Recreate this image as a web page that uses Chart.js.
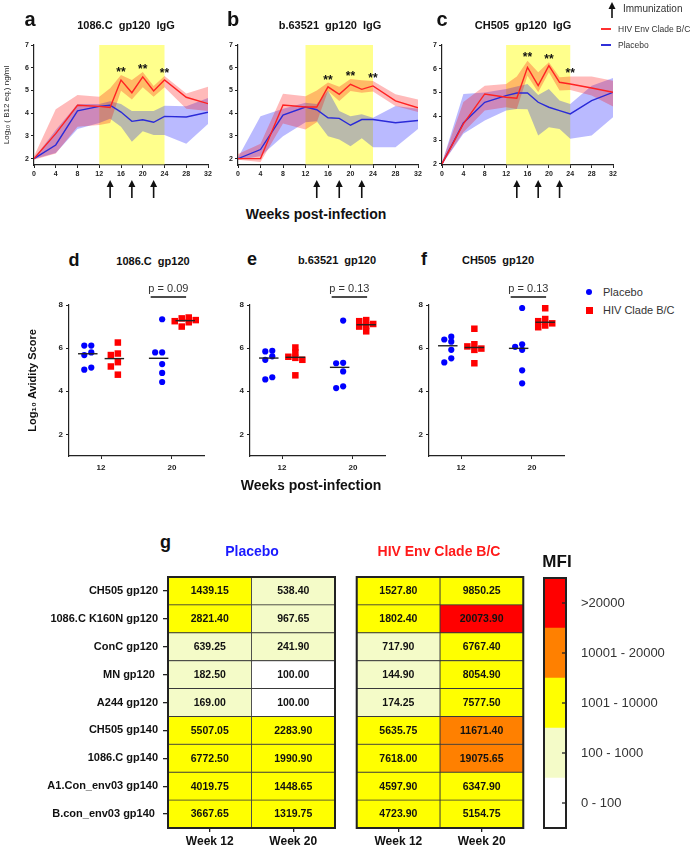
<!DOCTYPE html>
<html>
<head>
<meta charset="utf-8">
<title>Env IgG kinetics, avidity and MFI</title>
<script src="https://cdn.jsdelivr.net/npm/chart.js@4.4.1/dist/chart.umd.min.js"></script>
<style>
  body { margin:0; width:698px; height:848px; position:relative; overflow:hidden; background:#fff;
         font-family:"Liberation Sans", Arial, sans-serif; color:#222; }
  canvas { position:absolute; }
  .t { position:absolute; white-space:nowrap; line-height:1; transform:translate(-50%,-50%); }
  .l { position:absolute; white-space:nowrap; line-height:1; transform:translate(0,-50%); }
  .big { font-weight:bold; font-size:20px; color:#111; }
  .mid { font-weight:bold; font-size:18px; color:#111; }
  .ttl { font-weight:bold; font-size:11px; word-spacing:3px; color:#111; }
  .wk { font-weight:bold; font-size:14px; color:#111; }
</style>
</head>
<body>
<canvas id="chartA" width="215" height="205" style="left:0;top:0"></canvas>
<canvas id="chartB" width="203" height="205" style="left:222px;top:0"></canvas>
<canvas id="chartC" width="193" height="205" style="left:428px;top:0"></canvas>
<canvas id="chartD" width="210" height="220" style="left:0;top:270px"></canvas>
<canvas id="chartE" width="176" height="220" style="left:215px;top:270px"></canvas>
<canvas id="chartF" width="176" height="220" style="left:394px;top:270px"></canvas>
<canvas id="heatPlb" width="340" height="288" style="left:0;top:560px"></canvas>
<canvas id="heatEnv" width="180" height="288" style="left:350px;top:560px"></canvas>
<canvas id="mfiScale" width="168" height="288" style="left:530px;top:560px"></canvas>

<div class="t big" style="left:30px;top:19px">a</div>
<div class="t big" style="left:233px;top:19px">b</div>
<div class="t big" style="left:442px;top:19px">c</div>
<div class="t ttl" style="left:126px;top:24.5px">1086.C gp120 IgG</div>
<div class="t ttl" style="left:330px;top:24.5px">b.63521 gp120 IgG</div>
<div class="t ttl" style="left:523px;top:24.5px">CH505 gp120 IgG</div>

<svg style="position:absolute;left:606px;top:1px" width="12" height="18">
  <line x1="6" y1="4" x2="6" y2="17" stroke="#111" stroke-width="1.6"/>
  <polygon points="6,1 2.5,8 9.5,8" fill="#111"/>
</svg>
<div class="l" style="left:623px;top:9px;font-size:10px;color:#333">Immunization</div>
<div style="position:absolute;left:601px;top:28px;width:10px;height:2px;background:#ff3030"></div>
<div class="l" style="left:618px;top:29px;font-size:8.5px;color:#333">HIV Env Clade B/C</div>
<div style="position:absolute;left:601px;top:44px;width:10px;height:2px;background:#3030d8"></div>
<div class="l" style="left:618px;top:45px;font-size:8.5px;color:#333">Placebo</div>

<div class="t wk" style="left:316px;top:213.5px">Weeks post-infection</div>

<div class="t mid" style="left:74px;top:259.5px">d</div>
<div class="t mid" style="left:252px;top:259px">e</div>
<div class="t mid" style="left:424px;top:259px">f</div>
<div class="t ttl" style="left:153px;top:260.5px">1086.C gp120</div>
<div class="t ttl" style="left:337px;top:260px">b.63521 gp120</div>
<div class="t ttl" style="left:498px;top:260px">CH505 gp120</div>

<div style="position:absolute;left:586px;top:289px;width:6px;height:6px;border-radius:50%;background:#0000ff"></div>
<div class="l" style="left:603px;top:292px;font-size:11px;color:#333">Placebo</div>
<div style="position:absolute;left:585.5px;top:306.5px;width:7px;height:7px;background:#ff0000"></div>
<div class="l" style="left:603px;top:310px;font-size:11px;color:#333">HIV Clade B/C</div>

<div class="t wk" style="left:311px;top:485px">Weeks post-infection</div>

<div class="t mid" style="left:165.5px;top:542px">g</div>
<div class="t wk" style="left:252px;top:551px;color:#1a1aff">Placebo</div>
<div class="t wk" style="left:439px;top:551px;color:#ff1a1a">HIV Env Clade B/C</div>
<div class="t" style="left:557px;top:561px;font-weight:bold;font-size:17px;color:#111">MFI</div>

<script>
// ---- a-c: binding IgG over time (mean line, band = range) ----
const weeks = [0, 4, 8, 12, 14, 16, 18, 20, 22, 24, 28, 32];
const weekTicks = [0, 4, 8, 12, 16, 20, 24, 28, 32];
const igGTicks = [2, 3, 4, 5, 6, 7];
const immunizationWeeks = [14, 18, 22];
const boostWindow = [12, 24];
const starWeeks = [16, 20, 24];

// 1086.C gp120 IgG
const a_envMean = [2.0, 3.1, 4.35, 4.3, 4.25, 5.46, 4.9, 5.6, 4.98, 5.46, 4.7, 4.42];
const a_envHigh = [2.1, 4.17, 4.8, 4.72, 5.1, 5.68, 5.46, 5.81, 5.2, 5.64, 4.87, 5.16];
const a_envLow  = [1.95, 2.23, 3.4, 3.48, 3.57, 4.99, 4.6, 5.14, 4.72, 5.14, 4.2, 4.1];
const a_plbMean = [2.0, 2.6, 4.1, 4.3, 4.35, 4.05, 3.64, 3.71, 3.6, 3.86, 3.83, 4.04];
const a_plbHigh = [2.02, 3.26, 4.4, 4.4, 4.52, 4.4, 4.1, 4.1, 4.1, 4.33, 4.3, 4.67];
const a_plbLow  = [1.98, 2.25, 3.3, 3.57, 3.75, 3.4, 2.74, 3.2, 3.04, 3.04, 2.65, 3.52];

// b.63521 gp120 IgG
const b_envMean = [2.0, 2.0, 4.36, 4.27, 4.27, 5.16, 4.83, 5.27, 5.05, 5.2, 4.54, 4.24];
const b_envHigh = [2.2, 2.65, 4.86, 4.75, 5.0, 5.35, 5.16, 5.5, 5.45, 5.42, 4.83, 4.6];
const b_envLow  = [1.95, 1.85, 3.55, 3.28, 3.6, 4.98, 4.54, 4.98, 4.9, 4.95, 4.32, 4.05];
const b_plbMean = [2.0, 2.4, 3.92, 4.27, 4.15, 3.8, 3.77, 3.47, 3.72, 3.72, 3.58, 3.68];
const b_plbHigh = [2.05, 3.87, 4.2, 4.46, 4.4, 5.0, 4.1, 3.87, 3.95, 3.8, 4.32, 4.2];
const b_plbLow  = [1.95, 2.1, 2.99, 3.6, 3.65, 2.99, 2.84, 2.55, 2.9, 2.5, 2.5, 3.3];

// CH505 gp120 IgG
const c_envMean = [2.0, 3.68, 4.94, 4.8, 4.76, 6.06, 5.29, 6.13, 5.43, 5.36, 5.19, 5.01];
const c_envHigh = [2.05, 4.6, 5.29, 5.36, 5.67, 6.34, 5.85, 6.27, 5.64, 5.67, 5.67, 5.5];
const c_envLow  = [1.97, 3.33, 4.24, 4.38, 4.31, 5.71, 5.01, 5.85, 5.08, 5.11, 4.87, 4.41];
const c_plbMean = [2.0, 3.72, 4.59, 4.87, 4.98, 4.98, 4.59, 4.38, 4.24, 4.1, 4.66, 5.01];
const c_plbHigh = [2.03, 4.94, 5.0, 5.15, 5.25, 5.36, 4.9, 5.15, 4.66, 4.52, 5.29, 5.61];
const c_plbLow  = [1.97, 3.26, 3.82, 4.24, 4.31, 4.3, 3.19, 3.54, 3.47, 3.05, 3.19, 3.96];

// ---- d-f: avidity, 6 animals per group ----
const avidityWeeks = [12, 20];
const avidityTicks = [2, 4, 6, 8];
const d_plb12 = [6.12, 6.12, 5.8, 5.68, 5.1, 5.0];
const d_env12 = [6.26, 5.75, 5.68, 5.35, 5.15, 4.77];
const d_plb20 = [7.34, 5.8, 5.8, 5.26, 4.85, 4.43];
const d_env20 = [7.42, 7.38, 7.3, 7.25, 7.2, 7.0];
const e_plb12 = [5.88, 5.85, 5.62, 5.46, 4.65, 4.55];
const e_env12 = [6.03, 5.8, 5.6, 5.55, 5.46, 4.74];
const e_plb20 = [7.28, 5.32, 5.3, 4.92, 4.23, 4.15];
const e_env20 = [7.3, 7.25, 7.12, 7.05, 7.0, 6.78];
const f_plb12 = [6.53, 6.4, 6.3, 5.92, 5.53, 5.34];
const f_env12 = [6.9, 6.18, 6.08, 5.98, 5.92, 5.3];
const f_plb20 = [7.86, 6.18, 6.06, 5.92, 4.97, 4.37];
const f_env20 = [7.85, 7.35, 7.25, 7.15, 7.05, 6.97];
const pValues = ['0.09', '0.13', '0.13'];

// ---- g: MFI heatmap ----
const antigens = ['CH505 gp120', '1086.C K160N gp120', 'ConC gp120', 'MN gp120 ', 'A244 gp120',
                  'CH505 gp140', '1086.C gp140', 'A1.Con_env03 gp140', 'B.con_env03 gp140 '];
const timepoints = ['Week 12', 'Week 20'];
const plbWk12 = [1439.15, 2821.40, 639.25, 182.50, 169.00, 5507.05, 6772.50, 4019.75, 3667.65];
const plbWk20 = [538.40, 967.65, 241.90, 100.00, 100.00, 2283.90, 1990.90, 1448.65, 1319.75];
const envWk12 = [1527.80, 1802.40, 717.90, 144.90, 174.25, 5635.75, 7618.00, 4597.90, 4723.90];
const envWk20 = [9850.25, 20073.90, 6767.40, 8054.90, 7577.50, 11671.40, 19075.65, 6347.90, 5154.75];
const mfiBins = ['0 - 100', '100 - 1000', '1001 - 10000', '10001 - 20000', '>20000'];
const mfiUpper = [100, 1000, 10000, 20000, Infinity];
const mfiColors = ['#ffffff', '#f4fbc8', '#ffff00', '#ff8000', '#ff0000'];

const FONT = '"Liberation Sans", Arial, sans-serif';
Chart.defaults.font.family = FONT;
Chart.defaults.color = '#222';

const asTicks = arr => s => { s.ticks = arr.map(v => ({value: v})); };

// yellow immunization window behind everything
const boostShade = {
  id: 'boostShade',
  beforeDatasetsDraw(chart) {
    const {ctx, chartArea: a, scales: {x, y}} = chart;
    const l = x.getPixelForValue(boostWindow[0]), r = x.getPixelForValue(boostWindow[1]);
    const t = y.getPixelForValue(7);
    ctx.save();
    ctx.fillStyle = '#ffff8c';
    ctx.fillRect(l, t, r - l, a.bottom - t - 0.6);
    ctx.restore();
  }
};

// ** above the Env band and the immunization arrows under the axis
function igMarks(high) {
  return {
    id: 'igMarks',
    afterDraw(chart) {
      const {ctx, chartArea: a, scales: {x, y}} = chart;
      ctx.save();
      ctx.fillStyle = '#111';
      ctx.font = 'bold 12px ' + FONT;
      ctx.textAlign = 'center';
      ctx.textBaseline = 'alphabetic';
      starWeeks.forEach(w => {
        const v = high[weeks.indexOf(w)] + 0.25;
        ctx.fillText('**', x.getPixelForValue(w), y.getPixelForValue(v) + 6.7);
      });
      ctx.strokeStyle = '#111';
      ctx.lineWidth = 1.6;
      immunizationWeeks.forEach(w => {
        const px = x.getPixelForValue(w), tip = a.bottom + 15, tail = a.bottom + 33;
        ctx.beginPath();
        ctx.moveTo(px, tail);
        ctx.lineTo(px, tip + 5);
        ctx.stroke();
        ctx.beginPath();
        ctx.moveTo(px, tip);
        ctx.lineTo(px - 3.5, tip + 7);
        ctx.lineTo(px + 3.5, tip + 7);
        ctx.closePath();
        ctx.fill();
      });
      ctx.restore();
    }
  };
}

function igGChart(id, p) {
  const pts = arr => arr.map((v, i) => ({x: weeks[i], y: v}));
  const band = (arr, fill, color) => ({data: pts(arr), borderWidth: 0, fill, backgroundColor: color});
  return new Chart(document.getElementById(id), {
    type: 'line',
    data: {datasets: [
      {label: 'HIV Env Clade B/C', data: pts(p.envMean), borderColor: '#ff2222', borderWidth: 1.4},
      {label: 'Placebo', data: pts(p.plbMean), borderColor: '#2a2ad8', borderWidth: 1.4},
      band(p.envHigh, '+1', 'rgba(255,0,0,0.27)'),
      band(p.envLow, false, 'transparent'),
      band(p.plbHigh, '+1', 'rgba(0,0,255,0.27)'),
      band(p.plbLow, false, 'transparent')
    ]},
    options: {
      responsive: false, animation: false, events: [],
      elements: {point: {radius: 0}, line: {tension: 0}},
      layout: {padding: {left: 0, right: p.padR, top: 45, bottom: 0}},
      plugins: {legend: {display: false}, tooltip: {enabled: false}},
      scales: {
        x: {
          type: 'linear', min: 0, max: 32,
          afterBuildTicks: asTicks(weekTicks),
          afterFit: s => { s.height = 40; },
          grid: {drawOnChartArea: false, tickLength: 3, color: '#222'},
          border: {color: '#222', width: 1.2},
          ticks: {font: {size: 7, weight: 'bold'}, color: '#222', padding: 2, maxRotation: 0, autoSkip: false}
        },
        y: {
          type: 'linear', min: p.yMin, max: 7,
          afterBuildTicks: asTicks(igGTicks),
          afterFit: s => { s.width = p.yWidth; },
          grid: {drawOnChartArea: false, tickLength: 3, color: '#222'},
          border: {color: '#222', width: 1.2},
          ticks: {font: {size: 7, weight: 'bold'}, color: '#222', padding: 2},
          title: {display: !!p.yTitle, text: p.yTitle || '', font: {size: 8}, color: '#222',
                  padding: {top: 2, bottom: 0}}
        }
      }
    },
    plugins: [boostShade, igMarks(p.envHigh)]
  });
}

igGChart('chartA', {envMean: a_envMean, envHigh: a_envHigh, envLow: a_envLow,
  plbMean: a_plbMean, plbHigh: a_plbHigh, plbLow: a_plbLow,
  yMin: 1.72, yWidth: 34, padR: 7, yTitle: 'Log\u2081\u2080 ( B12 eq.) ng/ml'});
igGChart('chartB', {envMean: b_envMean, envHigh: b_envHigh, envLow: b_envLow,
  plbMean: b_plbMean, plbHigh: b_plbHigh, plbLow: b_plbLow,
  yMin: 1.72, yWidth: 16, padR: 7});
igGChart('chartC', {envMean: c_envMean, envHigh: c_envHigh, envLow: c_envLow,
  plbMean: c_plbMean, plbHigh: c_plbHigh, plbLow: c_plbLow,
  yMin: 1.95, yWidth: 14, padR: 8});

// ---- avidity scatter ----
const AV_W = 135, AV_H = 151, AV_MIN = 8.38, AV_MAX = 23.62, AV_YMIN = 1, AV_YMAX = 8;
const pxPerWeek = AV_W / (AV_MAX - AV_MIN), pxPerUnit = AV_H / (AV_YMAX - AV_YMIN);

// simple beeswarm so that close values sit side by side
function swarm(values, center) {
  const placed = [];
  values.slice().sort((a, b) => b - a).forEach(v => {
    for (const k of [0, -1, 1, -2, 2, -3, 3]) {
      const dx = k * 7;
      if (placed.every(q => Math.hypot(q.dx - dx, (q.v - v) * pxPerUnit) >= 4.5)) {
        placed.push({v, dx});
        break;
      }
    }
  });
  const lo = Math.min(...placed.map(q => q.dx)), hi = Math.max(...placed.map(q => q.dx));
  const shift = (lo + hi) / 2;
  return placed.map(q => ({x: center + (q.dx - shift) / pxPerWeek, y: q.v}));
}

function median(arr) {
  const s = arr.slice().sort((a, b) => a - b), m = s.length / 2;
  return s.length % 2 ? s[Math.floor(m)] : (s[m - 1] + s[m]) / 2;
}

function pBar(p) {
  return {
    id: 'pBar',
    afterDraw(chart) {
      const {ctx, scales: {x, y}} = chart;
      const l = x.getPixelForValue(17.6), r = x.getPixelForValue(21.6), yy = y.getPixelForValue(8.37);
      ctx.save();
      ctx.strokeStyle = '#111';
      ctx.lineWidth = 1.6;
      ctx.beginPath();
      ctx.moveTo(l, yy);
      ctx.lineTo(r, yy);
      ctx.stroke();
      ctx.font = '11px ' + FONT;
      ctx.fillStyle = '#333';
      ctx.textAlign = 'center';
      ctx.textBaseline = 'alphabetic';
      ctx.fillText('p = ' + p, (l + r) / 2, yy - 5);
      ctx.restore();
    }
  };
}

function avidityChart(id, g, p) {
  const shift = 1.5;
  const medLine = (vals, c) => {
    const m = median(vals);
    return {type: 'line', data: [{x: c - 1.1, y: m}, {x: c + 1.1, y: m}], showLine: true,
            borderColor: '#222', borderWidth: 1.4, pointRadius: 0};
  };
  return new Chart(document.getElementById(id), {
    type: 'scatter',
    data: {datasets: [
      medLine(g.plb12, 12 - shift), medLine(g.env12, 12 + shift),
      medLine(g.plb20, 20 - shift), medLine(g.env20, 20 + shift),
      {label: 'Placebo', data: [...swarm(g.plb12, 12 - shift), ...swarm(g.plb20, 20 - shift)],
       pointStyle: 'circle', pointRadius: 3.1, backgroundColor: '#0000ff', borderWidth: 0},
      {label: 'HIV Clade B/C', data: [...swarm(g.env12, 12 + shift), ...swarm(g.env20, 20 + shift)],
       pointStyle: 'rect', pointRadius: 4.6, backgroundColor: '#ff0000', borderWidth: 0}
    ]},
    options: {
      responsive: false, animation: false, events: [],
      layout: {padding: {left: 0, right: p.padR, top: 35, bottom: 0}},
      plugins: {legend: {display: false}, tooltip: {enabled: false}},
      scales: {
        x: {
          type: 'linear', min: AV_MIN, max: AV_MAX,
          afterBuildTicks: asTicks(avidityWeeks),
          afterFit: s => { s.height = 34; },
          grid: {drawOnChartArea: false, tickLength: 3, color: '#222'},
          border: {color: '#222', width: 1.2},
          ticks: {font: {size: 8, weight: 'bold'}, color: '#222', padding: 4, autoSkip: false}
        },
        y: {
          type: 'linear', min: AV_YMIN, max: AV_YMAX,
          afterBuildTicks: asTicks(avidityTicks),
          afterFit: s => { s.width = p.yWidth; },
          grid: {drawOnChartArea: false, tickLength: 3, color: '#222'},
          border: {color: '#222', width: 1.2},
          ticks: {font: {size: 8, weight: 'bold'}, color: '#222', padding: 3},
          title: {display: !!p.yTitle, text: p.yTitle || '', font: {size: 11, weight: 'bold'}, color: '#111',
                  padding: {top: 26, bottom: 0}}
        }
      }
    },
    plugins: [pBar(p.p)]
  });
}

avidityChart('chartD', {plb12: d_plb12, env12: d_env12, plb20: d_plb20, env20: d_env20},
  {yWidth: 69, padR: 6, p: pValues[0], yTitle: 'Log\u2081\u2080 Avidity Score'});
avidityChart('chartE', {plb12: e_plb12, env12: e_env12, plb20: e_plb20, env20: e_env20},
  {yWidth: 35, padR: 6, p: pValues[1]});
avidityChart('chartF', {plb12: f_plb12, env12: f_env12, plb20: f_plb20, env20: f_env20},
  {yWidth: 35, padR: 6, p: pValues[2]});

// ---- MFI heatmaps ----
const binColor = v => mfiColors[mfiUpper.findIndex(u => v <= u)];

const frame = {
  id: 'frame',
  afterDatasetsDraw(chart) {
    const {ctx, chartArea: a} = chart;
    ctx.save();
    ctx.strokeStyle = '#222';
    ctx.lineWidth = 2;
    ctx.strokeRect(a.left, a.top, a.right - a.left, a.bottom - a.top);
    ctx.restore();
  }
};

const cellText = {
  id: 'cellText',
  afterDatasetsDraw(chart) {
    const ctx = chart.ctx;
    ctx.save();
    ctx.font = 'bold 10.5px ' + FONT;
    ctx.fillStyle = '#111';
    ctx.textAlign = 'center';
    ctx.textBaseline = 'middle';
    chart.data.datasets.forEach((ds, i) => {
      chart.getDatasetMeta(i).data.forEach((bar, j) => {
        ctx.fillText(ds.mfi[j].toFixed(2), (bar.x + bar.base) / 2, bar.y + 0.5);
      });
    });
    ctx.restore();
  }
};

function mfiHeatmap(id, wk12, wk20, p) {
  const column = (label, vals) => ({
    label, data: vals.map(() => 1), mfi: vals, backgroundColor: vals.map(binColor),
    borderColor: '#3a3a3a', borderWidth: 0.8, borderSkipped: false,
    barPercentage: 1, categoryPercentage: 1
  });
  return new Chart(document.getElementById(id), {
    type: 'bar',
    data: {labels: antigens, datasets: [column(timepoints[0], wk12), column(timepoints[1], wk20)]},
    options: {
      indexAxis: 'y', responsive: false, animation: false, events: [],
      layout: {padding: {left: p.padL, right: p.padR, top: 17, bottom: 0}},
      plugins: {legend: {display: false}, tooltip: {enabled: false}},
      scales: {
        x: {
          type: 'linear', stacked: true, min: 0, max: 2,
          afterBuildTicks: asTicks([0.5, 1.5]),
          afterFit: s => { s.height = 20; },
          ticks: {callback: (v, i) => timepoints[i], font: {size: 12, weight: 'bold'}, color: '#111', padding: 2},
          grid: {drawOnChartArea: false, tickLength: 4, color: '#222', lineWidth: 1.3},
          border: {display: false}
        },
        y: {
          stacked: true, display: p.showLabels,
          afterFit: s => { s.width = p.yWidth; },
          ticks: {font: {size: 11, weight: 'bold'}, color: '#111', padding: 5},
          grid: {drawOnChartArea: false, offset: false, tickLength: 5, color: '#222', lineWidth: 1.3},
          border: {display: false}
        }
      }
    },
    plugins: [cellText, frame]
  });
}

mfiHeatmap('heatPlb', plbWk12, plbWk20, {showLabels: true, yWidth: 168, padL: 0, padR: 5});
mfiHeatmap('heatEnv', envWk12, envWk20, {showLabels: false, yWidth: 0, padL: 6.7, padR: 6.7});

// colour key
const innerTicks = {
  id: 'innerTicks',
  afterDatasetsDraw(chart) {
    const {ctx, chartArea: a, scales: {y}} = chart;
    ctx.save();
    ctx.strokeStyle = '#222';
    ctx.lineWidth = 1.3;
    y.ticks.forEach(t => {
      const py = y.getPixelForValue(t.value);
      ctx.beginPath();
      ctx.moveTo(a.right - 4, py);
      ctx.lineTo(a.right, py);
      ctx.stroke();
    });
    ctx.restore();
  }
};

new Chart(document.getElementById('mfiScale'), {
  type: 'bar',
  data: {labels: ['MFI'], datasets: mfiBins.map((b, i) => ({
    label: b, data: [1], backgroundColor: mfiColors[i], borderWidth: 0,
    barPercentage: 1, categoryPercentage: 1
  }))},
  options: {
    responsive: false, animation: false, events: [],
    layout: {padding: {left: 14, right: 0, top: 18, bottom: 20}},
    plugins: {legend: {display: false}, tooltip: {enabled: false}},
    scales: {
      x: {stacked: true, display: false},
      y: {
        stacked: true, position: 'right', min: 0, max: 5,
        afterBuildTicks: asTicks([0.5, 1.5, 2.5, 3.5, 4.5]),
        afterFit: s => { s.width = 132; },
        ticks: {callback: (v, i) => mfiBins[i], font: {size: 13}, color: '#333', padding: 7},
        grid: {display: false},
        border: {display: false}
      }
    }
  },
  plugins: [frame, innerTicks]
});
</script>
</body>
</html>
